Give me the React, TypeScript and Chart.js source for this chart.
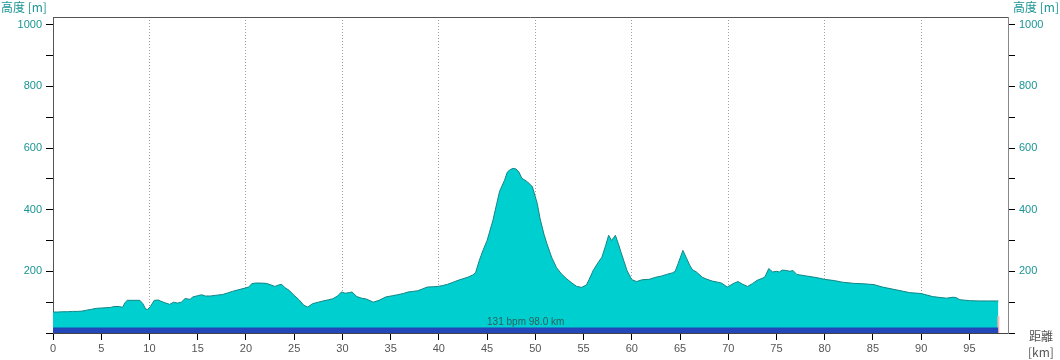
import React, { useEffect, useRef } from 'react';
import { Chart, registerables } from 'chart.js';

Chart.register(...registerables);

// Elevation profile (distance in km, elevation in m)
const distanceKm = [
  0, 0.5, 1, 1.5, 2, 2.5, 3, 3.5, 4, 4.5, 5, 5.5, 6, 6.3, 6.9, 7.2, 7.5, 7.7, 8.2, 8.7,
  9, 9.3, 9.6, 9.8, 10.1, 10.5, 10.9, 11.2, 11.6, 12.1, 12.5, 12.9, 13.3, 13.7, 14.2, 14.5, 15, 15.4, 15.8, 16.3,
  16.8, 17.6, 18.1, 18.6, 19.2, 19.7, 20.3, 20.6, 21, 21.5, 22.1, 22.5, 23, 23.4, 23.7, 24, 24.5, 25, 25.5, 26,
  26.4, 26.9, 27.5, 28, 28.6, 29, 29.5, 29.9, 30.3, 30.7, 31, 31.5, 32, 32.5, 33.2, 33.8, 34.5, 35.2, 35.7, 36.3,
  36.8, 37.3, 37.8, 38.3, 38.8, 39.4, 39.9, 40.4, 40.9, 41.5, 42, 42.5, 43, 43.5, 43.8, 44.2, 44.6, 45, 45.6, 46,
  46.3, 46.8, 47.1, 47.4, 47.7, 48, 48.3, 48.6, 49.2, 49.7, 50.2, 50.5, 50.9, 51.2, 51.7, 52.2, 52.7, 53.2, 53.8, 54.3,
  54.8, 55.3, 55.6, 56, 56.5, 56.9, 57.3, 57.6, 57.9, 58.3, 58.6, 58.9, 59.2, 59.5, 60, 60.5, 61.1, 61.8, 62.5, 63.1,
  63.6, 64.2, 64.5, 64.8, 65.3, 65.7, 66, 66.3, 66.7, 67.3, 67.8, 68.4, 68.9, 69.3, 69.9, 70.5, 71, 71.5, 72, 72.5,
  73, 73.5, 73.8, 74.2, 74.6, 75, 75.3, 75.6, 76, 76.4, 76.7, 77.1, 78.1, 79.1, 80, 81, 81.8, 83, 83.9, 85.1,
  86, 87.4, 88.8, 90, 91.2, 92.6, 93.3, 93.6, 94, 95, 96, 97, 97.8, 98,
];
const elevationM = [
  68, 68, 69, 69, 70, 70, 71, 74, 77, 80, 81, 82, 83, 86, 86, 83, 100, 106, 106, 106,
  106, 96, 78, 76, 86, 106, 107, 103, 98, 93, 100, 97, 100, 112, 109, 117, 121, 124, 120, 120,
  122, 125, 130, 135, 140, 144, 149, 160, 162, 162, 161, 157, 151, 156, 158, 148, 138, 122, 108, 90,
  84, 95, 100, 104, 108, 111, 120, 133, 129, 131, 133, 118, 113, 110, 100, 106, 117, 121, 124, 128,
  133, 135, 137, 143, 149, 150, 151, 154, 158, 165, 171, 176, 181, 188, 195, 236, 270, 300, 365, 420,
  460, 495, 522, 530, 534, 532, 522, 502, 490, 474, 420, 370, 320, 290, 245, 212, 192, 177, 162, 151,
  148, 156, 175, 203, 228, 246, 285, 317, 300, 317, 290, 260, 232, 203, 173, 167, 173, 174, 181, 185,
  190, 195, 200, 225, 268, 241, 220, 205, 198, 181, 174, 168, 165, 162, 149, 160, 167, 158, 151, 160,
  171, 177, 182, 209, 198, 200, 198, 204, 203, 200, 203, 190, 185, 180, 174, 170, 165, 161, 160, 157,
  149, 140, 131, 128, 118, 113, 116, 115, 108, 105, 104, 104, 104, 104,
];

const xTickValues = [0, 5, 10, 15, 20, 25, 30, 35, 40, 45, 50, 55, 60, 65, 70, 75, 80, 85, 90, 95];
const xGridValues = [10, 20, 30, 40, 50, 60, 70, 80, 90];
const yTickValues = [0, 100, 200, 300, 400, 500, 600, 700, 800, 900, 1000];
const yLabelValues = [200, 400, 600, 800, 1000];

const hrBandM = 18;
const lapMarkerKm = 98;
const lapMarkerM = 55;
const avgHeartRate = 131;
const totalDistanceKm = 98.0;

const axisTitleY = '高度 [m]';
const axisTitleX1 = '距離';
const axisTitleX2 = '[km]';

const TEAL = '#1a9494';
const GRAY_TXT = '#555555';

const textPlugin = {
  id: 'profileTexts',
  afterDatasetsDraw(chart: any) {
    const { ctx, chartArea, scales } = chart;
    ctx.save();
    // summary text
    ctx.font = '10px "Liberation Sans", Arial, sans-serif';
    ctx.fillStyle = '#2f5f5f';
    ctx.textAlign = 'center';
    ctx.textBaseline = 'alphabetic';
    const cx = scales.x.getPixelForValue(totalDistanceKm / 2);
    const by = scales.y.getPixelForValue(hrBandM) - 2;
    ctx.fillText(`${avgHeartRate} bpm ${totalDistanceKm.toFixed(1)} km`, cx, by);
    ctx.restore();
  },
  afterDraw(chart: any) {
    const { ctx, chartArea } = chart;
    ctx.save();
    // top border
    ctx.strokeStyle = '#555555';
    ctx.lineWidth = 1;
    ctx.beginPath();
    ctx.moveTo(chartArea.left, Math.round(chartArea.top) + 0.5);
    ctx.lineTo(chartArea.right, Math.round(chartArea.top) + 0.5);
    ctx.stroke();

    ctx.font = '12px "Noto Sans CJK JP", "Liberation Sans", sans-serif';
    ctx.fillStyle = TEAL;
    ctx.textBaseline = 'top';
    ctx.textAlign = 'left';
    ctx.fillText(axisTitleY, 1, 1);
    ctx.textAlign = 'right';
    ctx.fillText(axisTitleY, 1059, 1);

    ctx.fillStyle = GRAY_TXT;
    ctx.textAlign = 'left';
    ctx.fillText(axisTitleX1, 1029, 330);
    ctx.fillText(axisTitleX2, 1028, 346);
    ctx.restore();
  },
};

export default function App() {
  const canvasRef = useRef<HTMLCanvasElement | null>(null);

  useEffect(() => {
    const canvas = canvasRef.current;
    if (!canvas) return;
    const profile = distanceKm.map((d, i) => ({ x: d, y: elevationM[i] }));
    const band = [
      { x: distanceKm[0], y: hrBandM },
      { x: distanceKm[distanceKm.length - 1], y: hrBandM },
    ];
    const marker = [
      { x: lapMarkerKm, y: 0 },
      { x: lapMarkerKm, y: lapMarkerM },
    ];
    const yTickFont = { size: 11, family: '"Liberation Sans", Arial, sans-serif' };

    const chart = new Chart(canvas, {
      type: 'line',
      data: {
        datasets: [
          {
            label: 'hr',
            data: band,
            fill: 'origin',
            backgroundColor: '#2347b8',
            borderWidth: 0,
            pointRadius: 0,
            order: 0,
            yAxisID: 'y',
          },
          {
            label: 'lap',
            data: marker,
            fill: false,
            borderColor: '#ffb4b4',
            borderWidth: 2,
            pointRadius: 0,
            order: 0,
            yAxisID: 'y',
          },
          {
            label: 'elevation',
            data: profile,
            fill: 'origin',
            backgroundColor: '#00cfcf',
            borderColor: '#138585',
            borderWidth: 1,
            pointRadius: 0,
            tension: 0,
            order: 2,
            yAxisID: 'y',
          },
        ],
      },
      options: {
        animation: false,
        responsive: false,
        maintainAspectRatio: false,
        devicePixelRatio: 1,
        layout: { padding: { top: 17, left: 0, right: 0, bottom: 0 } },
        plugins: {
          legend: { display: false },
          tooltip: { enabled: false },
          title: { display: false },
        },
        scales: {
          x: {
            type: 'linear',
            position: 'bottom',
            min: 0,
            max: 99,
            afterBuildTicks: (scale: any) => {
              scale.ticks = xTickValues.map((v) => ({ value: v }));
            },
            afterFit: (scale: any) => {
              scale.height = 27;
            },
            ticks: {
              autoSkip: false,
              maxRotation: 0,
              padding: 2,
              color: GRAY_TXT,
              font: { size: 11, family: '"Liberation Sans", Arial, sans-serif' },
              callback: (v: any) => String(v),
            },
            grid: {
              drawOnChartArea: true,
              color: (ctx: any) =>
                ctx.tick && xGridValues.includes(ctx.tick.value) ? '#a0a0a0' : 'rgba(0,0,0,0)',
              tickColor: '#000000',
              tickLength: 7,
              lineWidth: 1,
            },
            border: { display: true, color: '#444444', width: 1, dash: [1, 2] },
          },
          y: {
            type: 'linear',
            position: 'left',
            min: 0,
            max: 1025,
            afterBuildTicks: (scale: any) => {
              scale.ticks = yTickValues.map((v) => ({ value: v }));
            },
            afterFit: (scale: any) => {
              scale.width = 53;
            },
            ticks: {
              autoSkip: false,
              padding: 4,
              color: TEAL,
              font: yTickFont,
              callback: (v: any) => (yLabelValues.includes(Number(v)) ? String(v) : ''),
            },
            grid: {
              drawOnChartArea: false,
              tickColor: '#000000',
              tickLength: 7,
            },
            border: { display: true, color: '#555555', width: 1 },
          },
          y2: {
            type: 'linear',
            position: 'right',
            min: 0,
            max: 1025,
            afterBuildTicks: (scale: any) => {
              scale.ticks = yTickValues.map((v) => ({ value: v }));
            },
            afterFit: (scale: any) => {
              scale.width = 52;
            },
            ticks: {
              autoSkip: false,
              padding: 4,
              color: TEAL,
              font: yTickFont,
              callback: (v: any) => (yLabelValues.includes(Number(v)) ? String(v) : ''),
            },
            grid: {
              drawOnChartArea: false,
              tickColor: '#000000',
              tickLength: 7,
            },
            border: { display: true, color: '#888888', width: 1 },
          },
        },
      },
      plugins: [textPlugin],
    } as any);

    return () => {
      chart.destroy();
    };
  }, []);

  return (
    <div style={{ position: 'fixed', left: 0, top: 0, width: 1060, height: 360, background: '#fff' }}>
      <canvas ref={canvasRef} width={1060} height={360} style={{ width: 1060, height: 360, display: 'block' }} />
    </div>
  );
}
